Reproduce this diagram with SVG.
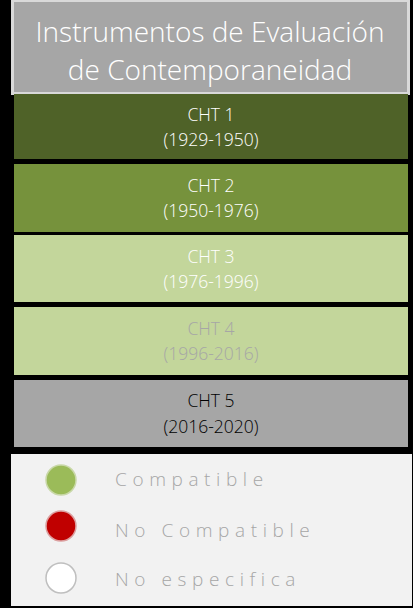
<svg xmlns="http://www.w3.org/2000/svg" width="413" height="608" viewBox="0 0 413 608">
<style>
.t{font-family:"Open Sans","Noto Sans","DejaVu Sans",sans-serif;text-anchor:middle}
.title{font-size:28px;fill:#ffffff;font-weight:300}
.cht{font-size:17.5px;font-weight:300}
.leg{font-family:"Open Sans","Noto Sans",sans-serif;font-size:19px;fill:#a6a6a6;letter-spacing:5.6px;font-weight:300}
</style>
<rect width="413" height="608" fill="#000000"/>
<g id="title">
<rect x="12.5" y="0.5" width="396" height="93" fill="#a6a6a6" stroke="#d9d9d9" stroke-width="3"/>
<text class="t title" x="210" y="42">Instrumentos de Evaluación</text>
<text class="t title" x="210" y="80">de Contemporaneidad</text>
</g>
<g id="cht1">
<rect x="14" y="94" width="394" height="65" fill="#4f6228"/>
<text class="t cht" x="211" y="121" fill="#ffffff">CHT 1</text>
<text class="t cht" x="211" y="146" fill="#ffffff">(1929-1950)</text>
</g>
<g id="cht2">
<rect x="14" y="164" width="394" height="68" fill="#76923c"/>
<text class="t cht" x="211" y="192" fill="#ffffff">CHT 2</text>
<text class="t cht" x="211" y="217" fill="#ffffff">(1950-1976)</text>
</g>
<g id="cht3">
<rect x="14" y="235" width="394" height="67" fill="#c3d69b"/>
<text class="t cht" x="211" y="263" fill="#ffffff">CHT 3</text>
<text class="t cht" x="211" y="288" fill="#ffffff">(1976-1996)</text>
</g>
<g id="cht4">
<rect x="14" y="307" width="394" height="68" fill="#c3d69b"/>
<text class="t cht" x="211" y="335" fill="#a6a6a6">CHT 4</text>
<text class="t cht" x="211" y="360" fill="#a6a6a6">(1996-2016)</text>
</g>
<g id="cht5">
<rect x="14" y="380" width="394" height="67" fill="#a6a6a6"/>
<text class="t cht" x="211" y="407" fill="#000000">CHT 5</text>
<text class="t cht" x="211" y="433" fill="#000000">(2016-2020)</text>
</g>
<g id="legend">
<rect x="11" y="454" width="401" height="152" fill="#f2f2f2"/>
<circle cx="61" cy="480" r="15" fill="#9bbb59" stroke="#c9d8a8" stroke-width="1.5"/>
<circle cx="61" cy="526" r="15" fill="#c00000" stroke="#dca0a0" stroke-width="1.5"/>
<circle cx="61" cy="578" r="15" fill="#ffffff" stroke="#bfbfbf" stroke-width="1.5"/>
<text class="leg" x="115" y="486">Compatible</text>
<text class="leg" x="115" y="537">No Compatible</text>
<text class="leg" x="115" y="586">No especifica</text>
</g>
</svg>
